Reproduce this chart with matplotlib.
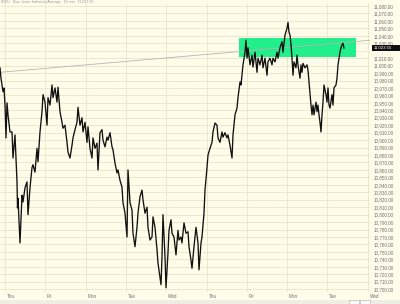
import numpy as np
import matplotlib
matplotlib.use('Agg')
import matplotlib.pyplot as plt
import matplotlib.transforms as mtransforms
from matplotlib.patches import Rectangle

# ---- data --------------------------------------------------------------
# horizontal position of each sample (≈10-minute bars from the left edge)
bar = [0, 1, 3, 4, 5, 6, 7, 8, 10, 12, 13, 15, 17, 17.5, 18, 20, 22, 23, 25, 27,
       28, 30, 32, 33, 35, 37, 38, 40, 42, 43, 45, 47, 48, 50, 52, 53, 55, 57, 58, 60,
       62, 63, 65, 67, 68, 70, 72, 73, 75, 77, 78, 80, 82, 83, 85, 87, 88, 90, 92, 93,
       95, 97, 98, 100, 102, 103, 105, 107, 108, 110, 112, 113, 115, 117, 118, 120, 122, 123, 125, 127,
       128, 130, 132, 133, 135, 137, 138, 140, 142, 143, 145, 147, 148, 150, 152, 153, 155, 157, 158, 160,
       161, 162, 163, 165, 166, 168, 169, 171, 172, 174, 176, 178, 179, 181, 182, 184, 186, 188, 189, 191,
       192, 194, 196, 198, 199, 201, 202, 204, 205, 207, 208, 210, 212, 213, 215, 217, 218, 220, 222, 223,
       225, 227, 228, 230, 232, 233, 235, 237, 238, 240, 241, 242, 243, 245, 246, 247, 248, 250, 252, 253,
       255, 257, 258, 260, 262, 263, 265, 267, 268, 270, 272, 273, 275, 277, 278, 280, 282, 283, 285, 287,
       288, 289, 290, 291, 292, 293, 294, 296, 297, 298, 300, 301, 302, 303, 305, 307, 308, 309, 310, 311,
       312, 313, 314, 316, 317, 318, 319, 320, 321, 322, 323, 324, 326, 327, 328, 329, 330, 332, 333, 334,
       336, 337, 338, 339, 340, 341, 342, 343, 344]

price = [10997, 10983, 10965, 10970, 10947, 10903, 10950, 10934, 10911, 10911, 10876, 10907, 10844, 10809, 10822, 10762, 10826, 10817, 10836, 10844,
         10800, 10836, 10863, 10867, 10857, 10889, 10871, 10911, 10938, 10961, 10951, 10920, 10957, 10947, 10974, 10957, 10970, 10951, 10971, 10938,
         10924, 10916, 10920, 10897, 10884, 10876, 10893, 10903, 10914, 10924, 10944, 10920, 10930, 10911, 10924, 10897, 10918, 10889, 10876, 10903,
         10889, 10896, 10860, 10910, 10914, 10900, 10891, 10904, 10900, 10910, 10891, 10887, 10869, 10856, 10860, 10846, 10837, 10816, 10802, 10770,
         10860, 10816, 10806, 10775, 10757, 10783, 10802, 10824, 10833, 10820, 10802, 10810, 10783, 10766, 10770, 10797, 10783, 10753, 10735, 10716,
         10706, 10743, 10800, 10743, 10702, 10749, 10779, 10793, 10775, 10770, 10746, 10779, 10766, 10770, 10762, 10789, 10775, 10777, 10757, 10739,
         10728, 10757, 10783, 10762, 10726, 10762, 10770, 10802, 10833, 10863, 10880, 10889, 10897, 10911, 10923, 10920, 10903, 10897, 10911, 10904,
         10910, 10903, 10907, 10893, 10876, 10907, 10934, 10943, 10957, 10978, 10974, 10987, 11001, 11018, 11034, 11010, 11024, 11001, 11014, 10998,
         11018, 10991, 11010, 11001, 11014, 10997, 11010, 10987, 11005, 11010, 11001, 11010, 11005, 11018, 11010, 11024, 11032, 11018, 11041, 11050,
         11058, 11045, 11041, 11028, 11010, 10987, 11005, 10997, 11014, 11001, 10983, 11001, 10991, 11003, 10997, 11001, 10994, 10978, 10961, 10947,
         10934, 10947, 10934, 10951, 10938, 10947, 10934, 10924, 10911, 10934, 10951, 10974, 10961, 10951, 10970, 10947, 10943, 10961, 10947, 10970,
         10974, 10983, 11001, 11010, 11018, 11024, 11028, 11030, 11023.55]

day_labels = ['Thu', 'Fri', 'Mon', 'Tue', 'Wed', 'Thu', 'Fri', 'Mon', 'Tue', 'Wed']
day_starts = [5, 45, 86, 126, 166, 207, 247, 287, 327, 368]

zone_bars = [239, 356]          # green resistance box
zone_prices = [11012, 11037]
trend_bars = [0, 370]           # grey trend line
trend_prices = [10991, 11034]
last_price = 11023.55

BG = '#fffdea'
GRID = '#e9e4c8'
LABEL = '#707070'
FONT = 'Liberation Sans'

fig = plt.figure(figsize=(4.0, 3.04), dpi=100, facecolor=BG)
ax = fig.add_axes([0.0, 1 - 292 / 304, 370 / 400, 289 / 304], facecolor=BG)

ax.set_xlim(0, 370)
ax.set_ylim(10696.2, 11084)

# grid
for yv in np.arange(10700, 11081, 10):
    ax.axhline(yv, color=GRID, lw=0.6, zorder=0)
for xv in day_starts:
    ax.axvline(xv, color=GRID, lw=0.6, zorder=0)

# resistance zone + trend line + price
ax.add_patch(Rectangle((zone_bars[0], zone_prices[0]), zone_bars[1] - zone_bars[0],
                       zone_prices[1] - zone_prices[0], facecolor='#22ee8c',
                       edgecolor='none', zorder=1))
ax.plot(trend_bars, trend_prices, color='#b4b4b4', lw=0.6, zorder=2)
ax.plot(bar, price, color='#111111', lw=0.95, zorder=3)

for s in ax.spines.values():
    s.set_visible(False)
ax.set_xticks([])
ax.yaxis.tick_right()
ticks = np.arange(10700, 11081, 10)
ax.set_yticks(ticks)
# the 11,020 label sits under the last-price tag, so it is not shown
ax.set_yticklabels(['' if v == 11020 else f'{v:,.2f}' for v in ticks],
                   fontsize=3.3, color=LABEL, family=FONT)
ax.tick_params(axis='y', length=0, pad=3)

# day labels under the plot
trans = mtransforms.blended_transform_factory(ax.transData, fig.transFigure)
for xv, lab in zip(day_starts, day_labels):
    ax.text(xv + 2, 1 - 297 / 304, lab, transform=trans, fontsize=3.3,
            color=LABEL, family=FONT, ha='left', va='center', clip_on=False)

# last price tag
fig.patches.append(Rectangle((372 / 400, 1 - 50.8 / 304), 28 / 400, 6 / 304,
                             transform=fig.transFigure, facecolor='#111111',
                             edgecolor='none', zorder=5))
fig.text(374 / 400, 1 - 47.9 / 304, f'{last_price:,.2f}', fontsize=3.1,
         color='white', family=FONT, ha='left', va='center', zorder=6)

# bottom strip with scroll buttons
fig.patches.append(Rectangle((0, 0), 1, 4 / 304, transform=fig.transFigure,
                             facecolor='#efeee4', edgecolor='none', zorder=1))
for bx in [349, 360]:
    fig.patches.append(Rectangle((bx / 400, 0), 10 / 400, 4 / 304,
                                 transform=fig.transFigure, facecolor='#f8f8f4',
                                 edgecolor='#b0b0b0', lw=0.4, zorder=2))

fig.text(1 / 400, 1 - 1.5 / 304, 'INDU   Dow Jones Industrial Average   10 min   11,023.55',
         fontsize=2.6, color='#9a9a9a', family=FONT, ha='left', va='center')

fig.savefig('out.png', dpi=100, facecolor=BG)
